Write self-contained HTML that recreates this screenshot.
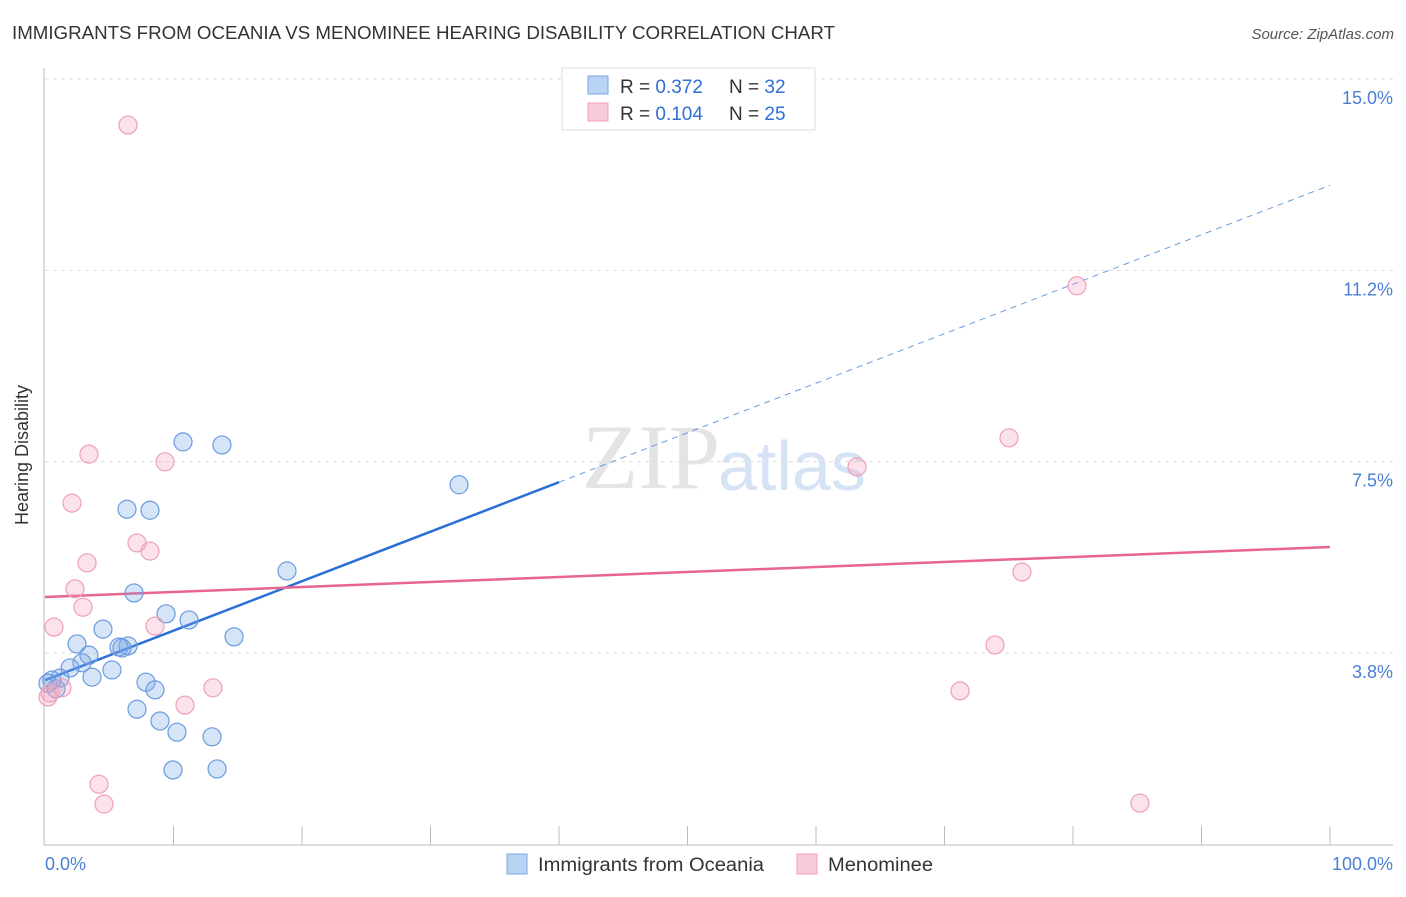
<!DOCTYPE html>
<html><head><meta charset="utf-8"><style>
body{margin:0;background:#fff;font-family:"Liberation Sans",sans-serif;}
</style></head><body>
<svg width="1406" height="892" xmlns="http://www.w3.org/2000/svg" font-family="Liberation Sans, sans-serif">
<text x="12" y="39" font-size="18" fill="#333" textLength="823" lengthAdjust="spacingAndGlyphs">IMMIGRANTS FROM OCEANIA VS MENOMINEE HEARING DISABILITY CORRELATION CHART</text>
<text x="1394" y="39" font-size="15" fill="#555" font-style="italic" text-anchor="end">Source: ZipAtlas.com</text>
<text x="720" y="488" font-size="92" fill="#e4e4e4" text-anchor="end" font-family="Liberation Serif, serif">ZIP</text>
<text x="718" y="490" font-size="70" fill="#d6e3f5">atlas</text>
<g id="grid"></g>
<line x1="44" y1="68" x2="44" y2="845" stroke="#bbb"/>
<line x1="44" y1="845" x2="1393" y2="845" stroke="#bbb"/>
<g id="xticks"></g>
<text x="28" y="455" font-size="18" fill="#333" text-anchor="middle" transform="rotate(-90 28 455)">Hearing Disability</text>
<text x="45" y="870" font-size="18" fill="#4a7fd4">0.0%</text>
<text x="1393" y="870" font-size="18" fill="#4a7fd4" text-anchor="end">100.0%</text>
<g id="lines"></g>
<g id="pts"></g>
<g>
<rect x="562" y="68" width="253" height="62" fill="#fff" stroke="#ddd"/>
<rect x="588" y="76" width="20" height="18" fill="#b9d3f5" stroke="#7aa6e6"/>
<rect x="588" y="103" width="20" height="18" fill="#f9cada" stroke="#eea0b8"/>
<text x="620" y="93" font-size="19" fill="#333">R = <tspan fill="#2f6fd6">0.372</tspan></text>
<text x="729" y="93" font-size="19" fill="#333">N = <tspan fill="#2f6fd6">32</tspan></text>
<text x="620" y="120" font-size="19" fill="#333">R = <tspan fill="#2f6fd6">0.104</tspan></text>
<text x="729" y="120" font-size="19" fill="#333">N = <tspan fill="#2f6fd6">25</tspan></text>
</g>
<g>
<rect x="507" y="854" width="20" height="20" fill="#b9d3f5" stroke="#7aa6e6"/>
<text x="538" y="871" font-size="19" fill="#333" textLength="226" lengthAdjust="spacingAndGlyphs">Immigrants from Oceania</text>
<rect x="797" y="854" width="20" height="20" fill="#f9cada" stroke="#eea0b8"/>
<text x="828" y="871" font-size="19" fill="#333" textLength="105" lengthAdjust="spacingAndGlyphs">Menominee</text>
</g>
</svg>
<script>
const yTicks=[15.0,11.25,7.5,3.75];
const yTickLabels=["15.0%","11.2%","7.5%","3.8%"];
const blueX=[10.74,13.77,6.38,8.17,32.22,18.83,6.93,9.42,11.21,14.71,4.51,2.49,6.46,5.76,5.99,3.42,2.88,1.95,5.21,3.66,1.17,0.54,0.23,7.86,8.56,7.16,8.95,10.27,13.00,9.96,13.39,0.86];
const blueY=[8.24,8.18,6.92,6.90,7.40,5.71,5.28,4.87,4.75,4.42,4.57,4.28,4.24,4.22,4.20,4.06,3.91,3.81,3.77,3.63,3.61,3.57,3.51,3.53,3.38,3.00,2.77,2.55,2.46,1.81,1.83,3.40];
const pinkX=[6.46,80.31,75.02,3.42,9.34,63.19,2.10,7.16,8.17,3.27,2.33,76.03,2.96,0.70,8.56,73.93,13.07,71.21,10.89,1.32,0.23,4.20,4.59,85.21,0.39];
const pinkY=[14.45,11.30,8.32,8.00,7.85,7.75,7.04,6.26,6.10,5.87,5.36,5.69,5.00,4.61,4.63,4.26,3.42,3.36,3.08,3.42,3.24,1.53,1.14,1.16,3.32];
const blueTrend=[3.57,13.27];
const pinkTrend=[5.20,6.18];
const X=v=>45+v*12.85, Y=v=>97+(15-v)*51.02;
const NS="http://www.w3.org/2000/svg";
function mk(tag,attrs,parent){const e=document.createElementNS(NS,tag);for(const k in attrs)e.setAttribute(k,attrs[k]);document.getElementById(parent).appendChild(e);return e;}
yTicks.forEach((t,i)=>{
 const l=mk('line',{x1:45,x2:1393,y1:Y(t)-18,y2:Y(t)-18,stroke:'#ddd','stroke-dasharray':'4,4'},'grid');
 
 
 const tx=mk('text',{x:1393,y:Y(t)+7,'font-size':18,fill:'#4a7fd4','text-anchor':'end'},'grid');
 tx.textContent=yTickLabels[i];
 
 
});
for(let i=1;i<=10;i++){
 const l=mk('line',{x1:X(i*10),x2:X(i*10),y1:826,y2:845,stroke:'#bbb'},'xticks');
 
 
}
const bs=(v)=>blueTrend[0]+(blueTrend[1]-blueTrend[0])*v/100;
let l1=mk('line',{x1:X(0),y1:Y(bs(0)),x2:X(40),y2:Y(bs(40)),stroke:'#2a6fd8','stroke-width':2.5},'lines');


let l2=mk('line',{x1:X(40),y1:Y(bs(40)),x2:X(100),y2:Y(bs(100)),stroke:'#6a9be0','stroke-width':1,'stroke-dasharray':'6,5'},'lines');


let l3=mk('line',{x1:X(0),y1:Y(pinkTrend[0]),x2:X(100),y2:Y(pinkTrend[1]),stroke:'#e8658f','stroke-width':2.5},'lines');


blueX.forEach((x,i)=>{
 const c=mk('circle',{cx:X(x),cy:Y(blueY[i]),r:9,fill:'rgba(120,165,230,0.3)',stroke:'#6a9be0','stroke-width':1.2},'pts');
 
 
});
pinkX.forEach((x,i)=>{
 const c=mk('circle',{cx:X(x),cy:Y(pinkY[i]),r:9,fill:'rgba(245,160,190,0.3)',stroke:'#eea0b8','stroke-width':1.2},'pts');
 
 
});
</script>
</body></html>
